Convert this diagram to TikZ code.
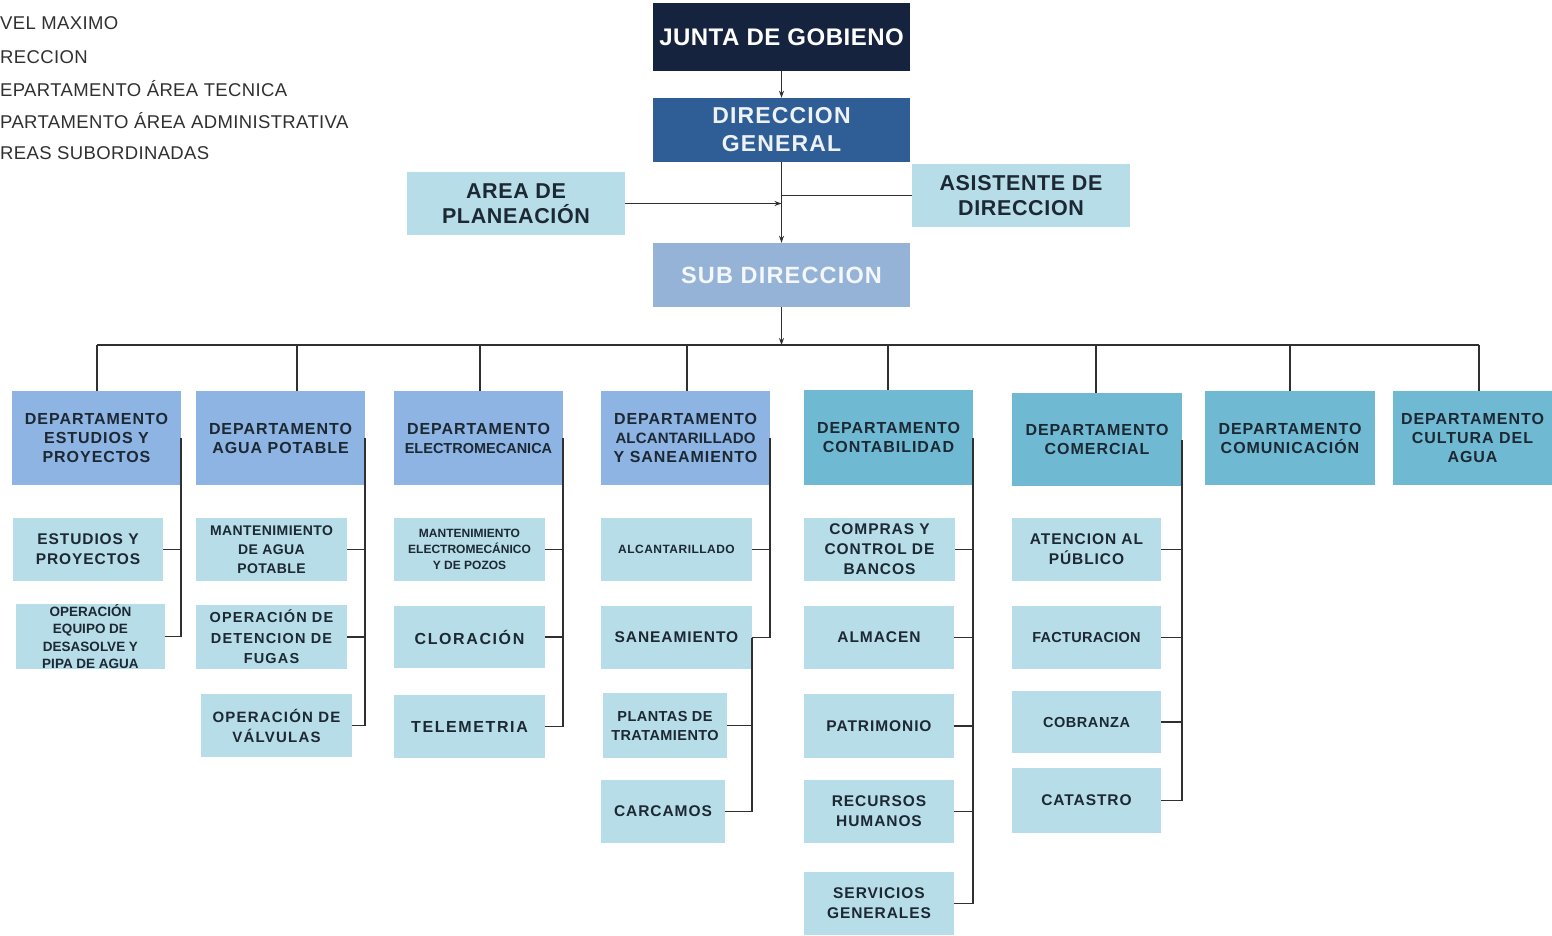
\documentclass[tikz,border=0pt]{standalone}
\usepackage{fontspec}
\setmainfont{Liberation Sans}
\usetikzlibrary{arrows.meta}
\definecolor{navy}{HTML}{15233F}
\definecolor{dgblue}{HTML}{2F5E97}
\definecolor{subblue}{HTML}{95B3D7}
\definecolor{light}{HTML}{B7DEE8}
\definecolor{tech}{HTML}{8DB4E2}
\definecolor{admin}{HTML}{6FBAD2}
\definecolor{txt}{HTML}{1C2833}
\definecolor{legendtxt}{HTML}{303030}
\definecolor{wire}{HTML}{303030}
\newcommand\fs[2]{\fontsize{#1}{#2}\selectfont}
\newcommand\bx[7]{\node[#2, minimum width={(#5-#3)*1pt}, minimum height={(#6-#4)*1pt}] (#1) at ({(#3+#5)/2},{(#4+#6)/2}) {#7};}
\tikzset{
  boxbase/.style={inner sep=0pt, align=center, text=txt},
  topbox/.style={boxbase, fill=navy, text=white, font=\addfontfeatures{LetterSpace=2}\bfseries\fs{24}{28}},
  dgbox/.style={boxbase, fill=dgblue, text=white!92!dgblue, font=\addfontfeatures{LetterSpace=5}\bfseries\fs{23}{28}},
  subbox/.style={boxbase, fill=subblue, text=white!90!subblue, font=\addfontfeatures{LetterSpace=5}\bfseries\fs{23.5}{28}},
  sidebox/.style={boxbase, fill=light, font=\addfontfeatures{LetterSpace=3}\bfseries\fs{21.5}{25}},
  techdept/.style={boxbase, fill=tech, font=\addfontfeatures{LetterSpace=6}\bfseries\fs{16}{19}},
  admdept/.style={boxbase, fill=admin, font=\addfontfeatures{LetterSpace=6}\bfseries\fs{16}{19}},
  child/.style={boxbase, fill=light, font=\addfontfeatures{LetterSpace=6}\bfseries\fs{15.5}{20}},
  legend/.style={inner sep=0pt, anchor=west, text=legendtxt, font=\addfontfeatures{LetterSpace=2}\fs{18.5}{20}},
  wirestyle/.style={draw=wire, line width=1.5pt},
  arr/.style={wirestyle, -{Stealth[length=7pt,width=5pt]}},
}
\begin{document}
\begin{tikzpicture}[x=1pt,y=-1pt]
\useasboundingbox (0,0) rectangle (1552,935);
% legend
\node[legend] (l1) at (0,23) {VEL MAXIMO};
\node[legend] (l2) at (0,57) {RECCION};
\node[legend] (l3) at (0,89) {EPARTAMENTO ÁREA TECNICA};
\node[legend] (l4) at (0,121) {PARTAMENTO ÁREA ADMINISTRATIVA};
\node[legend] (l5) at (0,153) {REAS SUBORDINADAS};
% top level
\bx{junta}{topbox}{653}{3}{910}{71}{JUNTA DE GOBIENO}
\bx{dg}{dgbox}{653}{98}{910}{162}{DIRECCION\\GENERAL}
\bx{area}{sidebox}{407}{172}{625}{235}{AREA DE\\PLANEACIÓN}
\bx{asist}{sidebox}{912}{164}{1130}{227}{ASISTENTE DE\\DIRECCION}
\bx{sub}{subbox}{653}{243}{910}{307}{SUB DIRECCION}
% departments
\bx{d1}{techdept}{12}{391}{181}{485}{DEPARTAMENTO\\ESTUDIOS Y\\PROYECTOS}
\bx{d2}{techdept}{196}{391}{365}{485}{DEPARTAMENTO\\AGUA POTABLE}
\bx{d3}{techdept}{394}{391}{563}{485}{DEPARTAMENTO\\{\addfontfeatures{LetterSpace=0}\fs{14.5}{19}ELECTROMECANICA}}
\bx{d4}{techdept}{601}{391}{770}{485}{DEPARTAMENTO\\{\addfontfeatures{LetterSpace=1}\fs{15}{19}ALCANTARILLADO}\\Y SANEAMIENTO}
\bx{d5}{admdept}{804}{390}{973}{485}{DEPARTAMENTO\\CONTABILIDAD}
\bx{d6}{admdept}{1012}{393}{1182}{486}{DEPARTAMENTO\\COMERCIAL}
\bx{d7}{admdept}{1205}{391}{1375}{485}{DEPARTAMENTO\\COMUNICACIÓN}
\bx{d8}{admdept}{1393}{391}{1552}{485}{DEPARTAMENTO\\CULTURA DEL\\AGUA}
% children
\bx{c11}{child}{13}{518}{163}{581}{ESTUDIOS Y\\PROYECTOS}
\bx{c12}{child, font=\bfseries\fs{13.5}{17.5}}{16}{605}{165}{668}{OPERACIÓN\\EQUIPO DE\\DESASOLVE Y\\PIPA DE AGUA}
\bx{c21}{child, font=\addfontfeatures{LetterSpace=3}\bfseries\fs{14}{19}}{196}{518}{347}{581}{MANTENIMIENTO\\DE AGUA\\POTABLE}
\bx{c22}{child, font=\addfontfeatures{LetterSpace=8}\bfseries\fs{14.5}{20.5}}{196}{605}{347}{669}{OPERACIÓN DE\\DETENCION DE\\FUGAS}
\bx{c23}{child, font=\addfontfeatures{LetterSpace=8}\bfseries\fs{15}{20}}{201}{694}{352}{757}{OPERACIÓN DE\\VÁLVULAS}
\bx{c31}{child, font=\bfseries\fs{12}{16}}{394}{518}{545}{581}{MANTENIMIENTO\\ELECTROMECÁNICO\\Y DE POZOS}
\bx{c32}{child, font=\addfontfeatures{LetterSpace=10}\bfseries\fs{16}{20}}{394}{606}{545}{668}{CLORACIÓN}
\bx{c33}{child, font=\addfontfeatures{LetterSpace=10}\bfseries\fs{16}{20}}{394}{695}{545}{758}{TELEMETRIA}
\bx{c41}{child, font=\addfontfeatures{LetterSpace=4}\bfseries\fs{12}{16}}{601}{518}{752}{581}{ALCANTARILLADO}
\bx{c42}{child}{601}{606}{752}{669}{SANEAMIENTO}
\bx{c43}{child, font=\addfontfeatures{LetterSpace=3}\bfseries\fs{14.5}{19}}{603}{693}{727}{758}{PLANTAS DE\\TRATAMIENTO}
\bx{c44}{child}{601}{780}{725}{843}{CARCAMOS}
\bx{c51}{child}{804}{518}{955}{581}{COMPRAS Y\\CONTROL DE\\BANCOS}
\bx{c52}{child}{804}{606}{954}{669}{ALMACEN}
\bx{c53}{child}{804}{694}{954}{758}{PATRIMONIO}
\bx{c54}{child}{804}{780}{954}{843}{RECURSOS\\HUMANOS}
\bx{c55}{child}{804}{872}{954}{935}{SERVICIOS\\GENERALES}
\bx{c61}{child}{1012}{518}{1161}{581}{ATENCION AL\\PÚBLICO}
\bx{c62}{child, font=\addfontfeatures{LetterSpace=2}\bfseries\fs{14.5}{19}}{1012}{606}{1161}{669}{FACTURACION}
\bx{c63}{child, font=\addfontfeatures{LetterSpace=4}\bfseries\fs{14.5}{19}}{1012}{691}{1161}{753}{COBRANZA}
\bx{c64}{child}{1012}{768}{1161}{833}{CATASTRO}
% top connectors
\draw[arr] (junta.south) -- (dg.north);
\draw[arr] (dg.south) -- (sub.north);
\draw[arr] (area.east) -- (area.east -| dg.south);
\draw[wirestyle] (asist.west) -- (asist.west -| dg.south);
\coordinate (bus) at (781.5,345);
\draw[arr] (sub.south) -- (bus);
\coordinate (t1) at (97,345);
\coordinate (t2) at (297,345);
\coordinate (t3) at (480,345);
\coordinate (t4) at (687,345);
\coordinate (t5) at (888,345);
\coordinate (t6) at (1096,345);
\coordinate (t7) at (1290,345);
\coordinate (t8) at (1479,345);
\draw[wirestyle] (t1) -- (t8);
\foreach \i in {1,...,8} {\draw[wirestyle] (t\i) -- (t\i |- d\i.north);}
% department trunks
\draw[wirestyle] (d1.east) -- (d1.east |- c12.east) -- (c12.east);
\draw[wirestyle] (c11.east) -- (c11.east -| d1.east);
\draw[wirestyle] (d2.east) -- (d2.east |- c23.east) -- (c23.east);
\foreach \c in {c21,c22} {\draw[wirestyle] (\c.east) -- (\c.east -| d2.east);}
\draw[wirestyle] (d3.east) -- (d3.east |- c33.east) -- (c33.east);
\foreach \c in {c31,c32} {\draw[wirestyle] (\c.east) -- (\c.east -| d3.east);}
\draw[wirestyle] (d4.east) -- (d4.east |- c42.east) -- (c42.east);
\draw[wirestyle] (c41.east) -- (c41.east -| d4.east);
\draw[wirestyle] (c42.east) -- (c42.east |- c44.east) -- (c44.east);
\draw[wirestyle] (c43.east) -- (c43.east -| c42.east);
\draw[wirestyle] (d5.east) -- (d5.east |- c55.east) -- (c55.east);
\foreach \c in {c51,c52,c53,c54} {\draw[wirestyle] (\c.east) -- (\c.east -| d5.east);}
\draw[wirestyle] (d6.east) -- (d6.east |- c64.east) -- (c64.east);
\foreach \c in {c61,c62,c63} {\draw[wirestyle] (\c.east) -- (\c.east -| d6.east);}
\end{tikzpicture}
\end{document}
